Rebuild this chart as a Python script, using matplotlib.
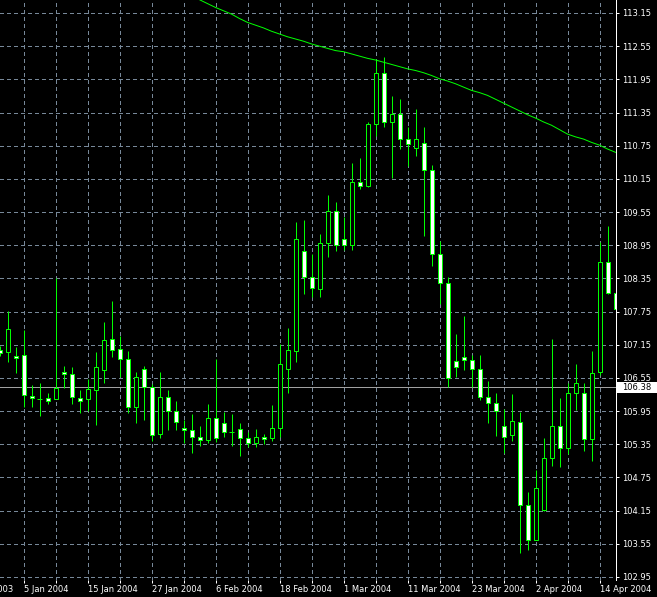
import matplotlib
matplotlib.use("Agg")
import matplotlib.pyplot as plt
from matplotlib.patches import Rectangle
from matplotlib.transforms import blended_transform_factory
import numpy as np
import pandas as pd

# daily bars, 31 Dec 2003 .. 16 Apr 2004 (business days)
dates = pd.bdate_range("2003-12-31", periods=78)

opens = [107.06, 107.01, 106.95, 106.96, 106.22, 106.16, 106.19, 106.17, 106.66, 106.62,
         106.18, 106.16, 106.34, 106.69, 107.25, 107.07, 106.89, 106.02, 106.72, 106.38,
         105.53, 106.20, 105.96, 105.64, 105.60, 105.49, 105.42, 105.82, 105.73, 105.58,
         105.62, 105.46, 105.37, 105.48, 105.46, 105.64, 106.72, 107.04, 108.84, 108.37,
         108.15, 108.99, 109.56, 109.06, 108.95, 110.09, 110.03, 111.14, 112.06, 111.17,
         111.32, 110.88, 110.70, 110.79, 110.31, 108.80, 108.26, 106.85, 106.92, 106.87,
         106.72, 106.20, 106.09, 105.68, 105.51, 105.75, 104.25, 103.62, 104.16, 105.11,
         105.68, 105.28, 106.27, 106.27, 105.44, 106.65, 108.65, 108.09]
highs = [107.12, 107.76, 107.11, 107.42, 106.42, 106.45, 106.27, 108.35, 106.77, 106.75,
         106.34, 106.53, 107.02, 107.56, 107.94, 107.31, 107.04, 106.66, 106.77, 106.44,
         106.66, 106.33, 106.13, 105.79, 105.90, 105.68, 106.08, 106.90, 105.93, 105.90,
         105.73, 105.57, 105.63, 105.54, 106.06, 107.16, 107.45, 109.37, 109.41, 108.80,
         109.15, 109.86, 109.73, 109.46, 110.44, 110.52, 111.18, 112.31, 112.35, 111.65,
         111.59, 111.08, 111.41, 111.08, 110.40, 109.02, 108.37, 107.34, 107.67, 106.96,
         106.96, 106.50, 106.27, 105.98, 106.26, 105.93, 104.48, 104.88, 105.46, 107.25,
         106.18, 106.45, 106.80, 106.45, 107.03, 109.01, 109.30, 108.89]
lows = [106.95, 106.84, 106.64, 106.03, 106.03, 105.86, 106.08, 106.16, 106.36, 106.07,
        105.92, 105.96, 105.69, 106.45, 106.93, 106.57, 105.91, 105.73, 105.78, 105.40,
        105.47, 105.61, 105.60, 105.37, 105.20, 105.31, 105.37, 105.39, 105.48, 105.32,
        105.14, 105.30, 105.30, 105.35, 105.41, 105.48, 106.28, 106.84, 108.06, 108.01,
        108.02, 108.74, 108.85, 108.86, 108.86, 109.97, 110.01, 110.93, 111.09, 110.17,
        110.69, 110.39, 110.57, 109.12, 108.58, 107.89, 106.38, 106.57, 106.70, 106.39,
        106.15, 105.74, 105.50, 105.19, 105.41, 103.39, 103.44, 103.61, 104.15, 104.96,
        104.93, 105.18, 105.97, 105.22, 105.04, 106.60, 108.07, 107.48]
closes = [107.00, 107.43, 106.91, 106.24, 106.18, 106.16, 106.14, 106.37, 106.62, 106.20,
          106.13, 106.35, 106.74, 107.23, 107.05, 106.89, 106.02, 106.56, 106.38, 105.51,
          106.20, 105.96, 105.75, 105.60, 105.49, 105.42, 105.82, 105.46, 105.58, 105.58,
          105.46, 105.37, 105.48, 105.45, 105.64, 106.80, 107.06, 109.06, 108.37, 108.17,
          108.99, 109.56, 108.95, 108.95, 110.09, 110.03, 111.14, 112.06, 111.18, 111.32,
          110.88, 110.78, 110.88, 110.31, 108.80, 108.26, 106.54, 106.75, 106.87, 106.72,
          106.20, 106.09, 105.95, 105.49, 105.77, 104.25, 103.62, 104.55, 105.11, 105.68,
          105.28, 106.27, 106.45, 105.44, 106.63, 108.65, 108.09, 107.79]

# moving average, only the part visible under the top edge
ma_values = [np.nan] * 24 + [
    113.47, 113.39, 113.32, 113.25, 113.19, 113.13, 113.05, 112.98, 112.93, 112.88,
    112.82, 112.77, 112.72, 112.68, 112.64, 112.59, 112.55, 112.51, 112.47, 112.45,
    112.41, 112.37, 112.33, 112.30, 112.26, 112.22, 112.18, 112.14, 112.11, 112.07,
    112.02, 111.96, 111.92, 111.87, 111.81, 111.75, 111.71, 111.66, 111.59, 111.52,
    111.45, 111.38, 111.31, 111.25, 111.18, 111.12, 111.04, 110.96, 110.91, 110.87,
    110.81, 110.76, 110.69, 110.63]

price_ticks = [102.95, 103.55, 104.15, 104.75, 105.35, 105.95, 106.55, 107.15, 107.75,
               108.35, 108.95, 109.55, 110.15, 110.75, 111.35, 111.95, 112.55, 113.15]
bid_price = 106.38

LIME = "#00ff00"
GRID = "#778899"
LW = 0.72  # one pixel at 100 dpi

plt.rcParams["font.family"] = "DejaVu Sans"

W, H = 657, 597
fig = plt.figure(figsize=(W / 100, H / 100), dpi=100, facecolor="black")
ax = fig.add_axes([0, 17 / H, 616 / W, 580 / H])
ax.set_facecolor("black")
ax.set_axisbelow(True)

pos = np.arange(len(dates))

# candles: black body = up, white body = down
for x, o, h, l, c in zip(pos, opens, highs, lows, closes):
    ax.vlines(x, l, h, color=LIME, lw=LW, zorder=3)
    if c == o:
        ax.hlines(o, x - 0.3, x + 0.3, color=LIME, lw=LW, zorder=4)
    else:
        face = "black" if c > o else "white"
        ax.add_patch(Rectangle((x - 0.25, min(o, c)), 0.5, abs(c - o),
                               facecolor=face, edgecolor=LIME, lw=LW, zorder=4))

ax.plot(pos, ma_values, color=LIME, lw=LW, zorder=2.5)
ax.axhline(bid_price, color="#a0a0a0", lw=LW, zorder=2)

# 8 px per bar, bar centres on pixel centres
ax.set_xlim(0.0625, 77.0625)
ax.set_ylim(102.895, 113.385)

# grid every 4 bars and every 0.60
ax.set_xticks(np.arange(3, len(dates), 4))
ax.set_xticklabels([])
ax.set_yticks(price_ticks)
ax.set_yticklabels([f"{p:.2f}" for p in price_ticks])
ax.grid(True, color=GRID, lw=LW, linestyle=(0, (3, 3)), antialiased=False)
ax.yaxis.tick_right()
ax.tick_params(axis="y", colors="white", length=2.2, width=LW, pad=2, labelsize=6)
ax.tick_params(axis="x", colors="white", length=2.2, width=LW)

for side in ["top", "left", "bottom"]:
    ax.spines[side].set_visible(False)
ax.spines["right"].set_color("white")
ax.spines["right"].set_linewidth(LW)

# date labels every 8 bars, left aligned at the bar
xt = blended_transform_factory(ax.transData, ax.transAxes)
for p in range(-5, len(dates), 8):
    d = dates[0] + pd.offsets.BDay(p)
    ax.text(p + 0.05, -10 / 580, f"{d.day} {d:%b %Y}", transform=xt, ha="left",
            va="center", color="white", fontsize=6, clip_on=False)

# current price box on the price scale
yt = blended_transform_factory(ax.transAxes, ax.transData)
ax.add_patch(Rectangle((1 + 1 / 616, bid_price - 5.5 / 55.29), 40 / 616, 11 / 55.29,
                       transform=yt, facecolor="white", edgecolor="none",
                       clip_on=False, zorder=10))
ax.text(1 + 6 / 616, bid_price, f"{bid_price:.2f}", transform=yt, ha="left", va="center",
        color="black", fontsize=6, clip_on=False, zorder=11)

fig.savefig("out.png", dpi=100, facecolor="black")
